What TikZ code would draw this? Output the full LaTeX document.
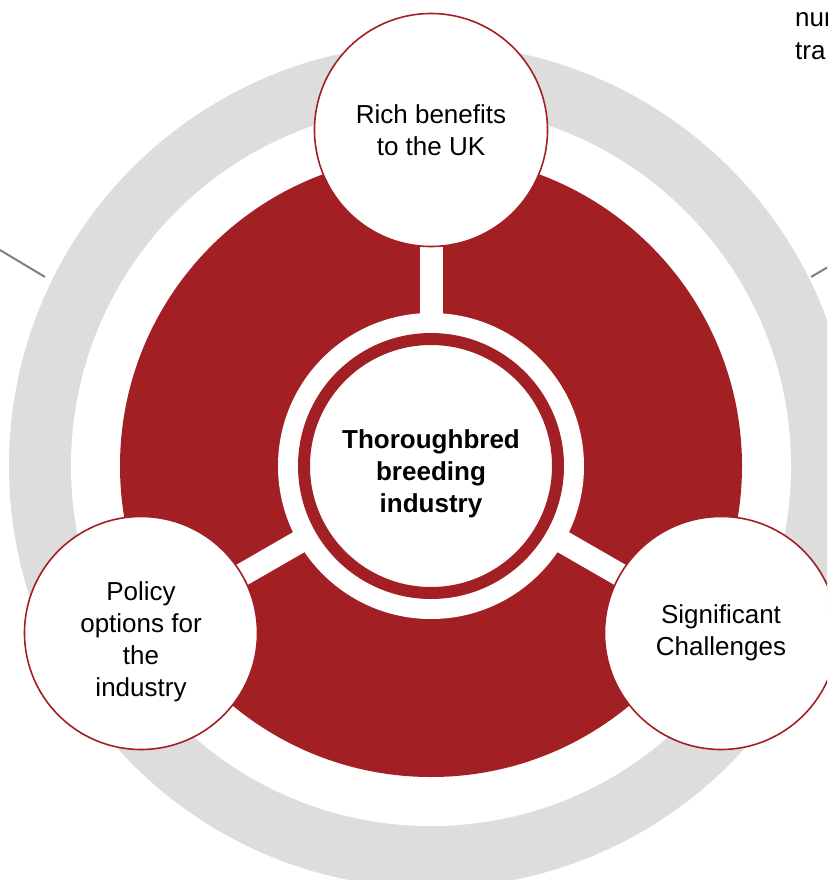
\documentclass[tikz,border=0pt]{standalone}
\usepackage{fontspec}
\setmainfont{Liberation Sans}
\definecolor{bred}{RGB}{162,31,35}
\definecolor{ringgray}{RGB}{221,221,221}
\definecolor{leadgray}{RGB}{128,128,128}
\tikzset{
  sat/.style={circle, draw=bred, line width=1.6pt, fill=white, minimum size=233pt, inner sep=0pt},
  sattext/.style={align=center, inner sep=0pt, font=\fontsize{26}{32}\selectfont},
  spoke/.style={white, line width=23pt},
  leader/.style={leadgray, line width=2pt},
  cuttext/.style={anchor=base west, inner sep=0pt, font=\fontsize{26}{32}\selectfont}
}
\begin{document}
\begin{tikzpicture}[x=1pt,y=-1pt]
\path[use as bounding box] (0,0) rectangle (827,880);
\clip (0,0) rectangle (827,880);
\fill[white] (0,0) rectangle (827,880);
\coordinate (c) at (431,466);
% outer gray ring
\fill[ringgray] (c) circle[radius=422pt];
\fill[white] (c) circle[radius=360pt];
% red disk
\fill[bred] (c) circle[radius=311pt];
% satellite positions
\coordinate (ptop) at (431,130);
\coordinate (pleft) at (141,633);
\coordinate (pright) at (721,633);
% spokes
\draw[spoke] (c) -- (ptop);
\draw[spoke] (c) -- (pleft);
\draw[spoke] (c) -- (pright);
% central circle
\fill[white] (c) circle[radius=153pt];
\node[circle, draw=bred, line width=12pt, fill=white, minimum size=254pt, inner sep=0pt] (core) at (c) {};
\node[sattext, font=\bfseries\fontsize{26}{32}\selectfont] (coretext) at ([yshift=-8pt]core.center) {Thoroughbred\\breeding\\industry};
% satellites
\node[sat] (top) at (ptop) {};
\node[sattext] (toptext) at (top.center) {Rich benefits\\to the UK};
\node[sat] (left) at (pleft) {};
\node[sattext] (lefttext) at ([yshift=-9pt]left.center) {Policy\\options for\\the\\industry};
\node[sat] (right) at (pright) {};
\node[sattext] (righttext) at (right.center) {Significant\\Challenges};
% leader lines
\coordinate (la) at (0,250);
\coordinate (lb) at (45,277);
\draw[leader] (la) -- (lb);
\coordinate (ra) at (811,277);
\coordinate (rb) at (840,260);
\draw[leader] (ra) -- (rb);
% cut-off text
\node[cuttext] (t1) at (795,27) {num};
\node[cuttext] (t2) at (795,60) {tra};
\end{tikzpicture}
\end{document}
